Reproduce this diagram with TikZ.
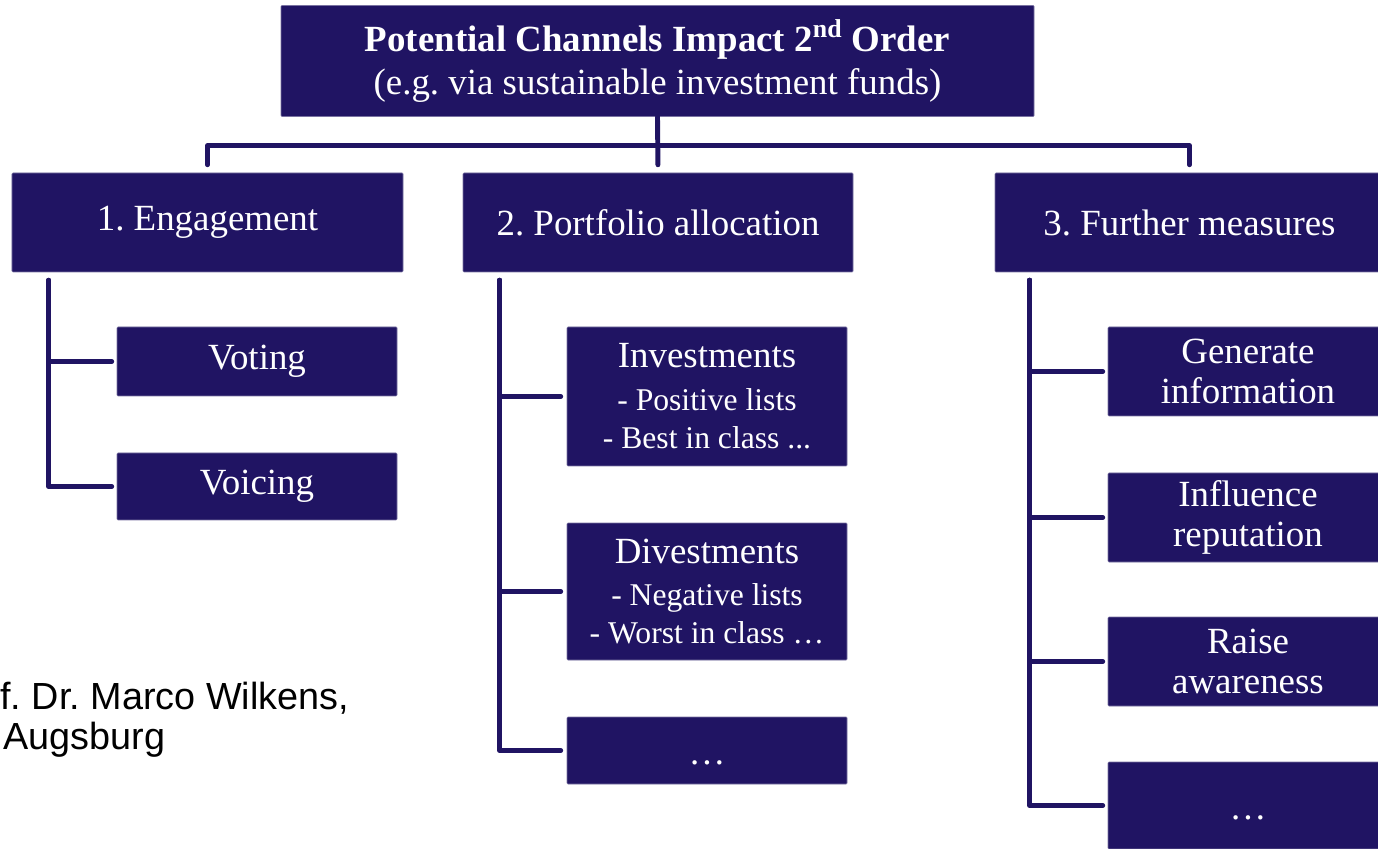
\documentclass[tikz,border=0pt]{standalone}
\usepackage{fontspec}
\setmainfont{Liberation Serif}
\newfontfamily\authorfont{Liberation Sans}
\definecolor{navy}{RGB}{32,20,99}
\frenchspacing

\begin{document}
\begin{tikzpicture}[
	box/.style = {fill=navy, text=white, draw=navy!60, line width=0.3pt, rounded corners=0.5pt, inner sep=0pt, align=center, font=\fontsize{21}{23}\selectfont},
	link/.style = {draw=navy, line width=2.8pt, line cap=round, line join=round}]
	\useasboundingbox (0,0) rectangle (27.56,-16.98);

	\node[box, minimum width=15.06cm, minimum height=2.22cm, font=\fontsize{21}{24.5}\selectfont] (top) at (13.15,-1.22) {\textbf{Potential Channels Impact 2\textsuperscript{nd} Order}\\(e.g. via sustainable investment funds)};

	\node[box, minimum width=7.82cm, minimum height=1.98cm] (eng) at (4.15,-4.45) {1. Engagement};
	\node[box, minimum width=7.80cm, minimum height=1.98cm] (port) at (13.16,-4.45) {2. Portfolio allocation};
	\node[box, minimum width=7.78cm, minimum height=1.98cm] (fur) at (23.79,-4.45) {3. Further measures};

	\node[box, minimum width=5.6cm, minimum height=1.38cm] (voting) at (5.14,-7.23) {Voting};
	\node[box, minimum width=5.6cm, minimum height=1.34cm] (voicing) at (5.14,-9.73) {Voicing};

	\node[box, minimum width=5.6cm, minimum height=2.78cm] (invest) at (14.14,-7.93) {Investments\\[1pt]{\fontsize{18}{21}\selectfont - Positive lists}\\[-1pt]{\fontsize{18}{21}\selectfont - Best in class ...}};
	\node[box, minimum width=5.6cm, minimum height=2.74cm] (divest) at (14.14,-11.83) {Divestments\\[1pt]{\fontsize{18}{21}\selectfont - Negative lists}\\[-1pt]{\fontsize{18}{21}\selectfont - Worst in class \dots}};
	\node[box, minimum width=5.6cm, minimum height=1.34cm] (pdots) at (14.14,-15.01) {\smash{\raisebox{-0.28cm}{\dots}}};

	\node[box, minimum width=5.6cm, minimum height=1.78cm] (geninfo) at (24.96,-7.43) {Generate\\information};
	\node[box, minimum width=5.6cm, minimum height=1.78cm] (influence) at (24.96,-10.35) {Influence\\reputation};
	\node[box, minimum width=5.6cm, minimum height=1.78cm] (awareness) at (24.96,-13.23) {Raise\\awareness};
	\node[box, minimum width=5.6cm, minimum height=1.74cm] (fdots) at (24.96,-16.11) {\smash{\raisebox{-0.28cm}{\dots}}};

	\node[anchor=west, align=left, inner sep=0pt, font=\authorfont\fontsize{21.5}{23}\selectfont] (author) at (0,-14.4) {f. Dr. Marco Wilkens,\\\hspace*{0.06cm}Augsburg};

	\draw[link, shorten <=0.16cm, shorten >=0.16cm] (eng.north) -- ++(0,0.54) -| (fur.north);
	\draw[link, shorten >=0.16cm] (top.south) -- (port.north);

	\draw[link, shorten <=0.16cm, shorten >=0.1cm] ([xshift=0.74cm]eng.south west) |- (voting.west);
	\draw[link, shorten <=0.16cm, shorten >=0.1cm] ([xshift=0.74cm]eng.south west) |- (voicing.west);

	\draw[link, shorten <=0.16cm, shorten >=0.12cm] ([xshift=0.74cm]port.south west) |- (invest.west);
	\draw[link, shorten <=0.16cm, shorten >=0.12cm] ([xshift=0.74cm]port.south west) |- (divest.west);
	\draw[link, shorten <=0.16cm, shorten >=0.12cm] ([xshift=0.74cm]port.south west) |- (pdots.west);

	\draw[link, shorten <=0.16cm, shorten >=0.1cm] ([xshift=0.7cm]fur.south west) |- (geninfo.west);
	\draw[link, shorten <=0.16cm, shorten >=0.1cm] ([xshift=0.7cm]fur.south west) |- (influence.west);
	\draw[link, shorten <=0.16cm, shorten >=0.1cm] ([xshift=0.7cm]fur.south west) |- (awareness.west);
	\draw[link, shorten <=0.16cm, shorten >=0.1cm] ([xshift=0.7cm]fur.south west) |- (fdots.west);
\end{tikzpicture}
\end{document}
